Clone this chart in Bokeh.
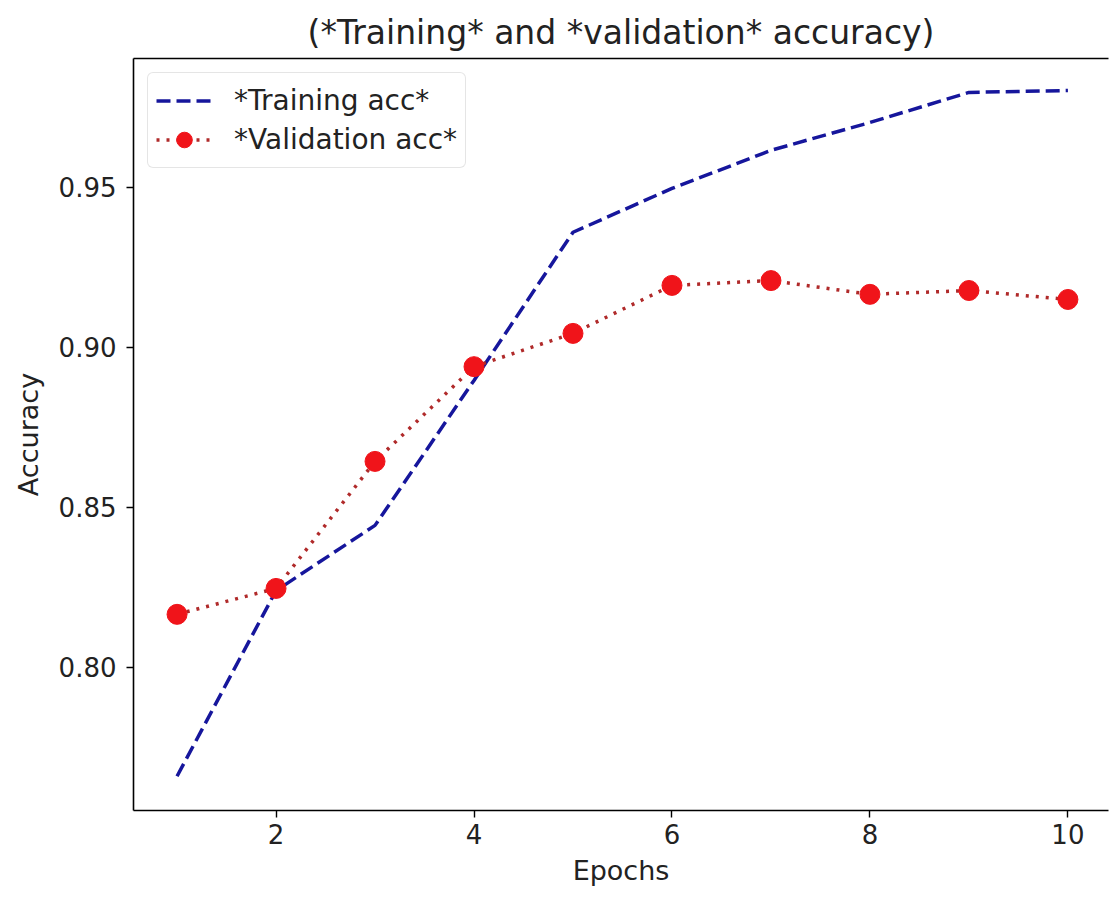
from bokeh.plotting import figure
from bokeh.models import (Range1d, FixedTicker, PrintfTickFormatter, LinearAxis,
                          Legend, LegendItem)
from bokeh.embed import file_html
from bokeh.resources import INLINE

epochs = [1, 2, 3, 4, 5, 6, 7, 8, 9, 10]
train_acc = [0.766, 0.824, 0.8444, 0.8897, 0.936, 0.9497, 0.9616, 0.9703, 0.9797, 0.9803]
val_acc = [0.8166, 0.8247, 0.8644, 0.894, 0.9044, 0.9194, 0.9209, 0.9166, 0.9178, 0.915]
x_ticks = [2, 4, 6, 8, 10]
y_ticks = [0.80, 0.85, 0.90, 0.95]

FONT = "DejaVu Sans"
TXT = "#222222"

p = figure(width=1109, height=899, output_backend="svg", toolbar_location=None,
           x_range=Range1d(0.56, 10.41), y_range=Range1d(0.7553, 0.9903),
           min_border_left=133, min_border_right=1, min_border_top=58,
           min_border_bottom=89, title="(*Training* and *validation* accuracy)")
p.outline_line_color = None
p.background_fill_color = "white"
p.border_fill_color = "white"
p.xgrid.grid_line_color = None
p.ygrid.grid_line_color = None

p.title.text_font = FONT
p.title.text_font_size = "33px"
p.title.text_font_style = "normal"
p.title.text_color = TXT
p.title.align = "center"
p.title.standoff = 14

for ax in (p.xaxis[0], p.yaxis[0]):
    ax.axis_line_color = "black"
    ax.axis_line_width = 1.6
    ax.major_tick_line_color = "black"
    ax.major_tick_line_width = 1.4
    ax.major_tick_out = 7
    ax.major_tick_in = 0
    ax.minor_tick_line_color = None
    ax.major_label_text_font = FONT
    ax.major_label_text_font_size = "26px"
    ax.major_label_text_color = TXT
    ax.axis_label_text_font = FONT
    ax.axis_label_text_font_size = "27px"
    ax.axis_label_text_font_style = "normal"
    ax.axis_label_text_color = TXT

p.xaxis.ticker = FixedTicker(ticks=x_ticks)
p.yaxis.ticker = FixedTicker(ticks=y_ticks)
p.yaxis.formatter = PrintfTickFormatter(format="%.2f")
p.xaxis.axis_label = "Epochs"
p.yaxis.axis_label = "Accuracy"
p.xaxis.major_label_standoff = 6
p.yaxis.major_label_standoff = 10
p.xaxis.axis_label_standoff = 8
p.yaxis.axis_label_standoff = 12

top = LinearAxis(ticker=FixedTicker(ticks=[]), major_label_text_font_size="0px",
                 axis_line_color="black", axis_line_width=1.6,
                 major_tick_line_color=None, minor_tick_line_color=None)
p.add_layout(top, "above")

r_train = p.line(epochs, train_acc, line_color="#16169c", line_width=3.5,
                 line_dash="14 6")
r_val_line = p.line(epochs, val_acc, line_color="#b02a2a", line_width=3.5,
                    line_dash="3 7")
r_val_pts = p.scatter(epochs, val_acc, size=20, fill_color="#f0141a",
                      line_color="#f0141a")

legend = Legend(items=[LegendItem(label="*Training acc*", renderers=[r_train]),
                       LegendItem(label="*Validation acc*", renderers=[r_val_line, r_val_pts])],
                location="top_left")
legend.margin = 14
legend.padding = 8
legend.spacing = 0
legend.glyph_width = 56
legend.glyph_height = 39
legend.label_height = 39
legend.label_standoff = 22
legend.label_text_font = FONT
legend.label_text_font_size = "28px"
legend.label_text_color = TXT
legend.border_line_color = "#cccccc"
legend.border_line_width = 1.5
legend.border_radius = 6
legend.background_fill_alpha = 0.8
p.add_layout(legend, "center")

open("out.html", "w").write(file_html(p, INLINE))
